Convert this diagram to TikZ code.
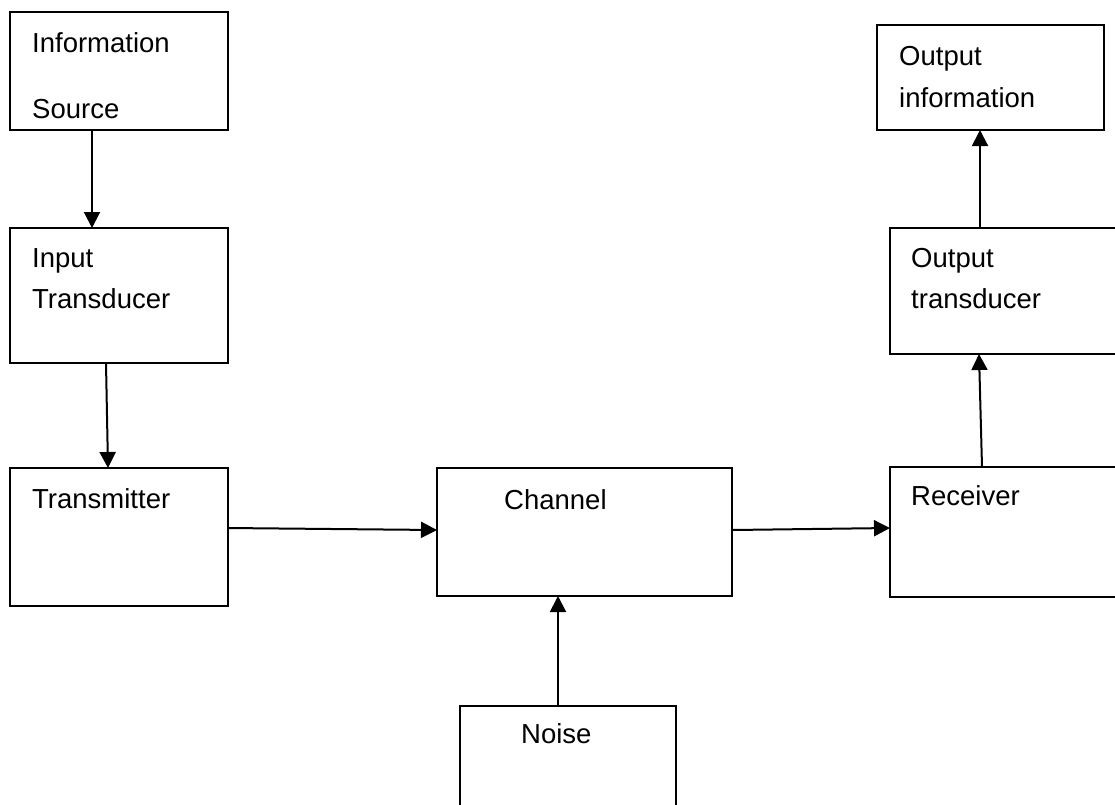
\documentclass[tikz,border=0pt]{standalone}
\usepackage{fontspec}
\setmainfont{Liberation Sans}
\usetikzlibrary{calc,arrows.meta}
\tikzstyle{blk}=[rectangle, draw=black, line width=2pt, anchor=north west, inner sep=0pt, outer sep=0pt]
\tikzstyle{lbl}=[anchor=base west, inner sep=0pt]
\tikzstyle{arr}=[line width=2pt, -{Triangle[length=16pt, width=16pt]}]

\begin{document}
\begin{tikzpicture}[x=1pt, y=-1pt, font=\fontsize{27.5pt}{32pt}\selectfont]
    \useasboundingbox (0,0) rectangle (1115,804);

    % blocks
    \node[blk, minimum width=218pt, minimum height=118pt] at (10,12) (src) {};
    \node[blk, minimum width=218pt, minimum height=135pt] at (10,228) (inp) {};
    \node[blk, minimum width=218pt, minimum height=138pt] at (10,468) (tx) {};
    \node[blk, minimum width=295pt, minimum height=128pt] at (437,468) (ch) {};
    \node[blk, minimum width=216pt, minimum height=130pt] at (460,706) (noise) {};
    \node[blk, minimum width=250pt, minimum height=130pt] at (890,467) (rx) {};
    \node[blk, minimum width=250pt, minimum height=126pt] at (890,228) (otx) {};
    \node[blk, minimum width=227pt, minimum height=105pt] at (877,25) (oinf) {};

    % texts
    \node[lbl] at ($(src.north west)+(22,40)$) (src1) {Information};
    \node[lbl] at ($(src.north west)+(22,106)$) (src2) {Source};
    \node[lbl] at ($(inp.north west)+(22,39)$) (inp1) {Input};
    \node[lbl] at ($(inp.north west)+(22,80)$) (inp2) {Transducer};
    \node[lbl] at ($(tx.north west)+(22,40)$) (tx1) {Transmitter};
    \node[lbl] at ($(ch.north west)+(67,41)$) (ch1) {Channel};
    \node[lbl] at ($(noise.north west)+(61,37)$) (noise1) {Noise};
    \node[lbl] at ($(rx.north west)+(21,38)$) (rx1) {Receiver};
    \node[lbl] at ($(otx.north west)+(21,39)$) (otx1) {Output};
    \node[lbl] at ($(otx.north west)+(21,80)$) (otx2) {transducer};
    \node[lbl] at ($(oinf.north west)+(22,40)$) (oinf1) {Output};
    \node[lbl] at ($(oinf.north west)+(22,82)$) (oinf2) {information};

    % connectors
    \draw[arr] ($(src.south west)+(82,0)$) -- ($(inp.north west)+(82,0)$);
    \draw[arr] ($(inp.south west)+(96,0)$) -- ($(tx.north west)+(98,0)$);
    \draw[arr] ($(tx.north east)+(0,60)$) -- ($(ch.north west)+(0,62)$);
    \draw[arr] ($(ch.north east)+(0,62)$) -- ($(rx.north west)+(0,61)$);
    \draw[arr] ($(noise.north west)+(98,0)$) -- ($(ch.south west)+(121,0)$);
    \draw[arr] ($(rx.north west)+(92,0)$) -- ($(otx.south west)+(89,0)$);
    \draw[arr] ($(otx.north west)+(90,0)$) -- ($(oinf.south west)+(103,0)$);
\end{tikzpicture}
\end{document}
